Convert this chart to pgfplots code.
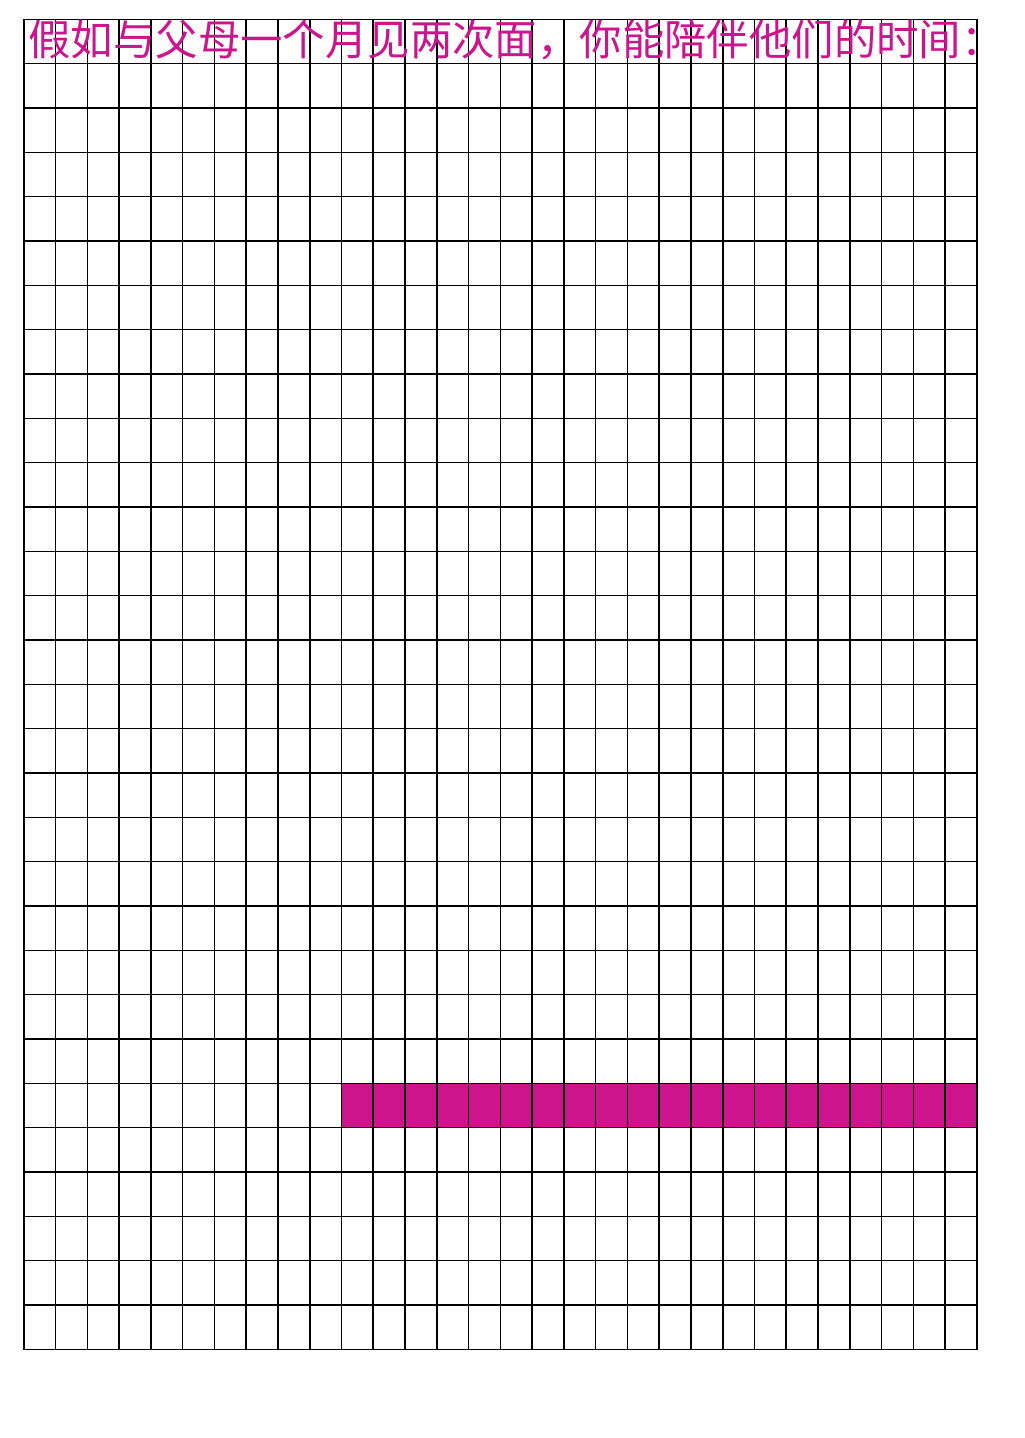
\documentclass[border=0pt]{standalone}
\usepackage{pgfplots}
\pgfplotsset{compat=1.18}
\usepackage{fontspec}
\newfontfamily\cjk{Noto Sans CJK SC}
\definecolor{mag}{RGB}{204,20,140}
\begin{document}
\begin{tikzpicture}[x=1pt,y=1pt]
\path[use as bounding box] (0,0) rectangle (512,719);
\begin{axis}[at={(7.5,20)},anchor=south west,
  width=476.5pt,height=665pt,scale only axis,
  xmin=0,xmax=30,ymin=0,ymax=30,
  xtick={0,...,30},ytick={0,...,30},
  xticklabels={},yticklabels={},
  major tick length=0pt,
  grid=major,
  grid style={black,line width=0.8pt},
  axis line style={black,line width=0.8pt},
  axis on top]
\addplot[fill=mag,draw=mag] coordinates {(10,5) (30,5) (30,6) (10,6)} \closedcycle;
\end{axis}
\node[anchor=west,text=mag,font=\cjk\fontsize{21.2}{23}\selectfont,inner sep=0pt] at (14,699) {假如与父母一个月见两次面，你能陪伴他们的时间：};
\end{tikzpicture}
\end{document}
